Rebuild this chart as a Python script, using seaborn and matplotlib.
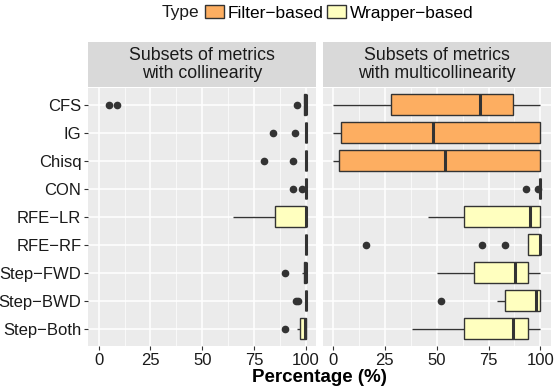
import pandas as pd
import matplotlib
matplotlib.use("Agg")
import matplotlib.pyplot as plt
from matplotlib.patches import Patch
from matplotlib.ticker import MultipleLocator
import seaborn as sns

methods = ["CFS", "IG", "Chisq", "CON", "RFE−LR", "RFE−RF", "Step−FWD", "Step−BWD", "Step−Both"]
method_types = ["Filter−based"] * 4 + ["Wrapper−based"] * 5
type_order = ["Filter−based", "Wrapper−based"]
type_colors = ["#FDAE61", "#FFFFBF"]
panel_titles = ["Subsets of metrics\nwith collinearity", "Subsets of metrics\nwith multicollinearity"]

# percentages per method
collinear_values = [
    [5, 9, 96, 99, 99.5, 100, 100, 100, 100, 100, 100, 100, 100],
    [84, 95, 100, 100, 100, 100, 100, 100, 100, 100, 100, 100, 100],
    [80, 94, 100, 100, 100, 100, 100, 100, 100, 100, 100, 100, 100],
    [94, 98, 100, 100, 100, 100, 100, 100, 100, 100, 100, 100, 100],
    [65, 75, 80, 85, 92, 98, 100, 100, 100, 100, 100, 100, 100],
    [100, 100, 100, 100, 100, 100, 100, 100, 100, 100, 100, 100, 100],
    [90, 98, 99, 99, 99.5, 100, 100, 100, 100, 100, 100, 100, 100],
    [95.5, 96.5, 100, 100, 100, 100, 100, 100, 100, 100, 100, 100, 100],
    [90, 96, 97, 97.5, 98, 99, 99.5, 100, 100, 100, 100, 100, 100],
]
multicollinear_values = [
    [0, 10, 20, 28, 45, 60, 71, 78, 83, 87, 92, 96, 100],
    [0, 1, 2, 4, 20, 35, 48, 70, 90, 100, 100, 100, 100],
    [0, 1, 2, 3, 20, 40, 54, 75, 90, 100, 100, 100, 100],
    [93, 99, 100, 100, 100, 100, 100, 100, 100, 100, 100, 100, 100],
    [46, 52, 58, 63, 75, 88, 95, 97, 99, 100, 100, 100, 100],
    [16, 72, 83, 94, 96, 98, 100, 100, 100, 100, 100, 100, 100],
    [50, 58, 63, 68, 76, 83, 88, 90, 92, 94, 96, 98, 100],
    [52, 79, 81, 83, 90, 95, 98, 99, 100, 100, 100, 100, 100],
    [38, 48, 56, 63, 72, 80, 87, 90, 92, 94, 96, 98, 100],
]

rows = []
for panel, values in zip(panel_titles, [collinear_values, multicollinear_values]):
    for method, mtype, vals in zip(methods, method_types, values):
        for v in vals:
            rows.append({"Panel": panel, "Method": method, "Type": mtype, "Percentage": v})
df = pd.DataFrame(rows)

plt.rcParams["font.family"] = ["Liberation Sans", "DejaVu Sans"]
TEXT = "#1A1A1A"
W, H = 554, 390
fig = plt.figure(figsize=(W / 100, H / 100), dpi=100)

panel_x = [(88.3, 316.0), (322.7, 550.7)]
top, bottom = 88.0, 345.7
strip_top, strip_bottom = 42.3, 86.7

for i, (panel, (x0, x1)) in enumerate(zip(panel_titles, panel_x)):
    ax = fig.add_axes([x0 / W, 1 - bottom / H, (x1 - x0) / W, (bottom - top) / H])
    sub = df[df["Panel"] == panel]
    sns.boxplot(data=sub, x="Percentage", y="Method", hue="Type", order=methods,
                hue_order=type_order, palette=type_colors, saturation=1, dodge=False,
                width=0.75, linecolor="#333333", linewidth=1.0, showcaps=False, whis=1.5,
                fliersize=4.5,
                flierprops=dict(marker="o", markerfacecolor="#333333", markeredgecolor="#333333"),
                medianprops=dict(linewidth=2.2), legend=False, ax=ax)
    ax.set_facecolor("#EBEBEB")
    ax.set_xlim(-5, 105)
    ax.set_ylim(8.6, -0.6)
    ax.xaxis.set_major_locator(MultipleLocator(25))
    ax.xaxis.set_minor_locator(MultipleLocator(12.5))
    ax.grid(which="major", color="white", linewidth=1.1)
    ax.grid(which="minor", axis="x", color="white", linewidth=0.5)
    ax.set_axisbelow(True)
    for s in ax.spines.values():
        s.set_visible(False)
    ax.tick_params(which="major", length=3, width=0.8, color="#333333", labelcolor=TEXT,
                   labelsize=12, pad=2)
    ax.tick_params(which="minor", length=0)
    ax.set_xlabel("")
    ax.set_ylabel("")
    if i == 1:
        ax.tick_params(axis="y", length=0, labelleft=False)

    sax = fig.add_axes([x0 / W, 1 - strip_bottom / H, (x1 - x0) / W, (strip_bottom - strip_top) / H])
    sax.set_facecolor("#D9D9D9")
    sax.set_xticks([])
    sax.set_yticks([])
    for s in sax.spines.values():
        s.set_visible(False)
    sax.text(0.5, 0.5, panel, ha="center", va="center", fontsize=12.8, color=TEXT,
             linespacing=1.1, transform=sax.transAxes)

fig.text(319.5 / W, 1 - 378 / H, "Percentage (%)", ha="center", va="center",
         fontsize=13.5, fontweight="bold", color="black")

fig.text(162 / W, 1 - 13 / H, "Type", ha="left", va="center", fontsize=12.5, color=TEXT)
handles = [Patch(facecolor=c, edgecolor="#333333", linewidth=1.0) for c in type_colors]
fig.legend(handles, type_order, loc="center left", bbox_to_anchor=(205 / W, 1 - 13 / H),
           ncol=2, frameon=False, fontsize=12.5, handlelength=1.1, handleheight=0.8,
           handletextpad=0.2, columnspacing=0.2, borderpad=0, borderaxespad=0)

fig.savefig("out.png", dpi=100)
